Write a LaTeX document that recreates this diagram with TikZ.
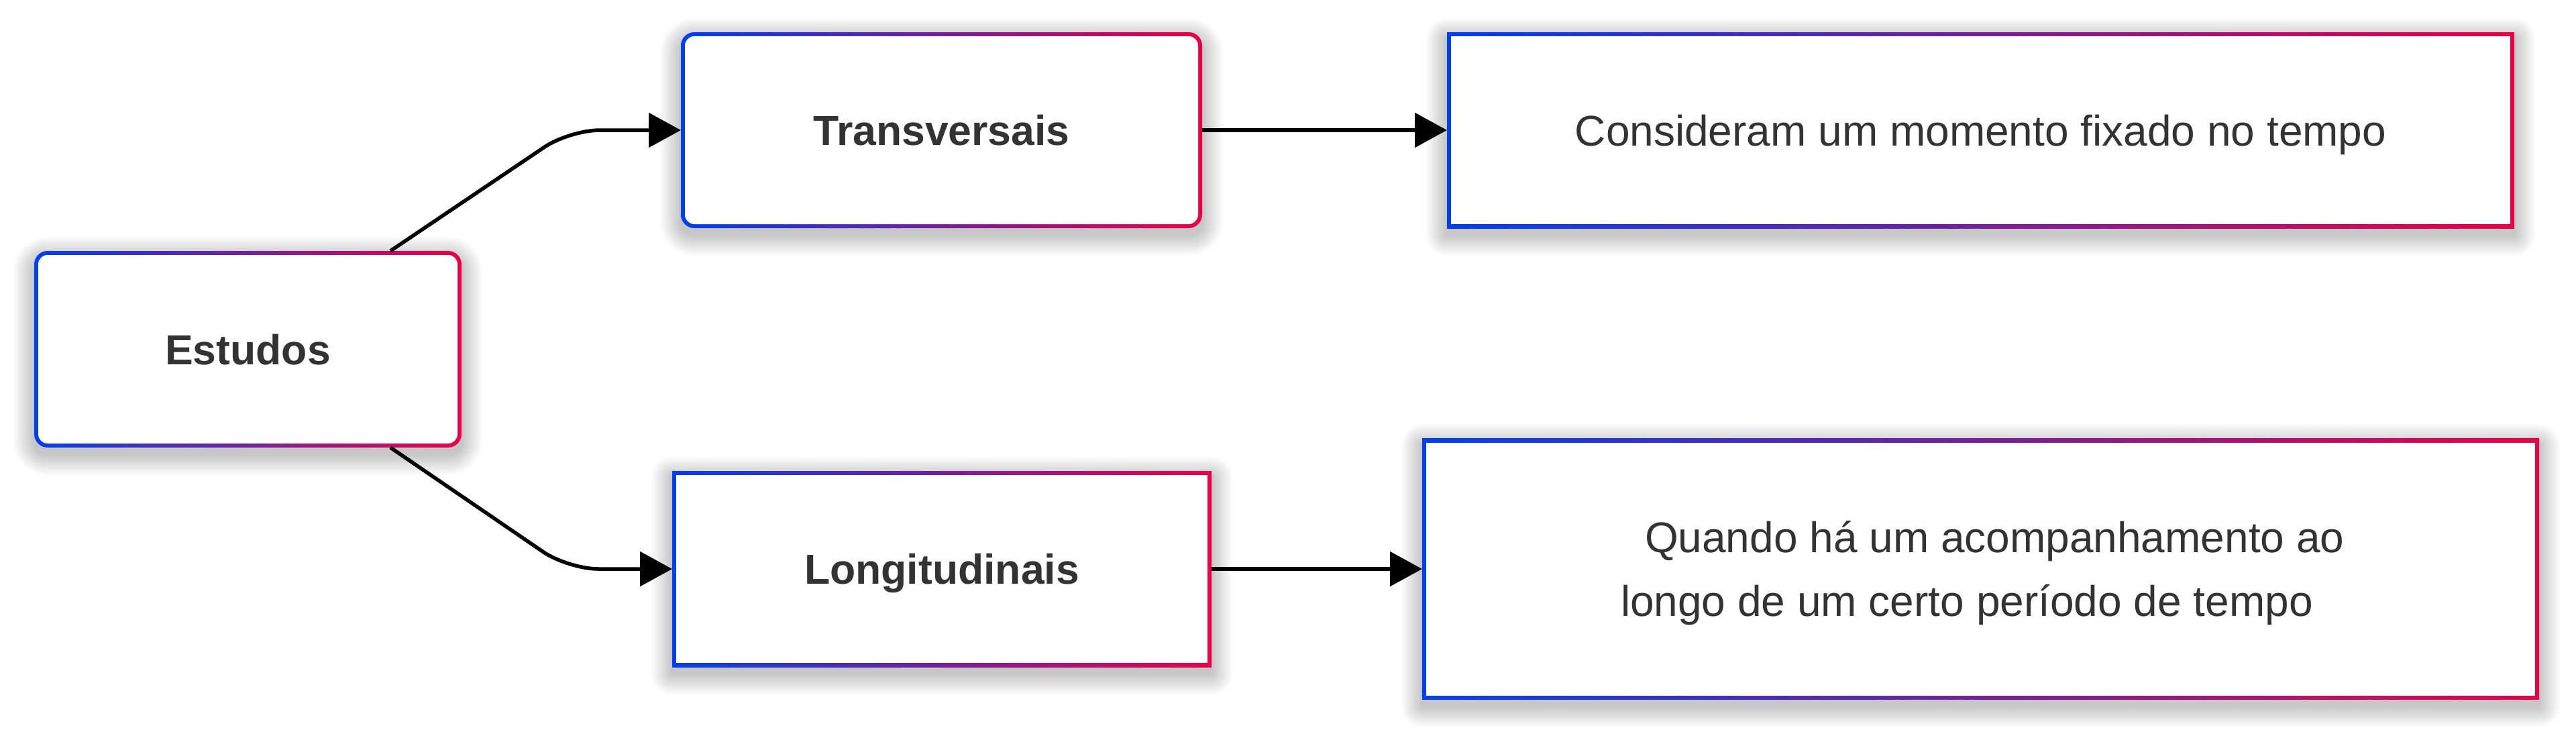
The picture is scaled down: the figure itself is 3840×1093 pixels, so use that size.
\documentclass[tikz,border=0pt]{standalone}
\usepackage{fontspec}
\setmainfont{Liberation Sans}
\usetikzlibrary{arrows.meta,backgrounds}
\definecolor{cblue}{RGB}{0,64,240}
\definecolor{cred}{RGB}{236,0,70}
\definecolor{tgrey}{HTML}{333333}
\newcommand\mkshadow[2]{%
  \foreach \i in {1,...,14}{%
    \pgfmathsetmacro\dd{\i*2.2}%
    \pgfmathsetmacro\rr{#2+\dd}%
    \pgfmathsetmacro\ya{-\dd-10}%
    \pgfmathsetmacro\yb{\dd-10}%
    \fill[black, opacity=0.015, rounded corners=\rr pt]
      ([shift={(-\dd pt,\ya pt)}]#1.south west) rectangle
      ([shift={(\dd pt,\yb pt)}]#1.north east);
  }%
}
\begin{document}
\begin{tikzpicture}[x=1pt,y=-1pt,
  gbox/.style={rectangle, inner sep=0pt, outer sep=0pt, text=tgrey,
    path picture={
      \shade[left color=cblue,right color=cred]
        (path picture bounding box.south west) rectangle (path picture bounding box.north east);
      \fill[white, rounded corners=#1]
        ([shift={(6pt,6pt)}]path picture bounding box.south west) rectangle
        ([shift={(-6pt,-6pt)}]path picture bounding box.north east);
    }},
  rbox/.style={gbox=14pt, rounded corners=20pt},
  sbox/.style={gbox=0pt},
  lbl/.style={font=\fontsize{62.5pt}{75pt}\selectfont\bfseries, text height=45pt, text depth=0pt},
  reg/.style={font=\fontsize{64pt}{95pt}\selectfont, text height=46pt, text depth=0pt},
  txt/.style={font=\fontsize{64pt}{95pt}\selectfont, text=tgrey, inner sep=0pt, outer sep=0pt},
  conn/.style={line width=5.5pt, draw=black, -{Triangle[length=48pt,width=51pt]}}
]
\useasboundingbox (0,0) rectangle (3840,1093);

\node[rbox, lbl, minimum width=637pt, minimum height=293pt] (est) at (369.5,520.5) {Estudos};
\node[rbox, lbl, minimum width=777pt, minimum height=292pt] (tra) at (1403.5,194) {Transversais};
\node[sbox, lbl, minimum width=804pt, minimum height=292pt] (lon) at (1404,848) {Longitudinais};
\node[sbox, reg, minimum width=1591pt, minimum height=292pt] (rt) at (2952.5,194) {Consideram um momento fixado no tempo};
\node[sbox, minimum width=1665pt, minimum height=389pt] (rb) at (2952.5,848) {};
\node[txt, anchor=base west] (rb1) at (2452,823) {Quando há um acompanhamento ao};
\node[txt, anchor=base west] (rb2) at (2416,918) {longo de um certo período de tempo};

\draw[conn, rounded corners=45pt] ([xshift=212.5pt]est.north) -- (849,194) -- (tra.west);
\draw[conn, rounded corners=45pt] ([xshift=212.5pt]est.south) -- (847,848) -- (lon.west);
\draw[conn] (tra.east) -- (rt.west);
\draw[conn] (lon.east) -- (rb.west);

\begin{scope}[on background layer]
  \fill[white] (0,0) rectangle (3840,1093);
  \mkshadow{est}{20}
  \mkshadow{tra}{20}
  \mkshadow{lon}{0}
  \mkshadow{rt}{0}
  \mkshadow{rb}{0}
\end{scope}
\end{tikzpicture}
\end{document}
